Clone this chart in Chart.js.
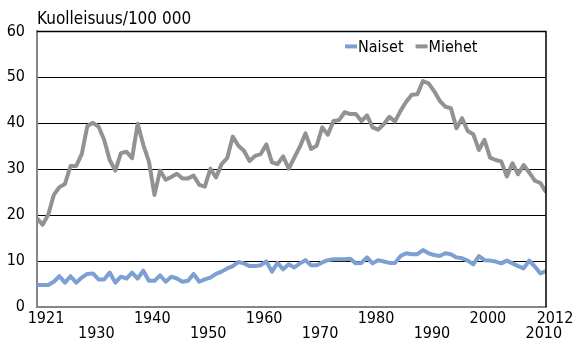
<!DOCTYPE html>
<html>
<head>
<meta charset="utf-8">
<script src="https://cdn.jsdelivr.net/npm/chart.js@4/dist/chart.umd.min.js"></script>
<style>
    html, body { margin: 0; padding: 0; background: #fff; }
    #wrap { width: 573px; height: 340px; }
</style>
</head>
<body>
<div id="wrap"><canvas id="kuolleisuusChart" width="573" height="340"></canvas></div>
<script>
// Vuodet 1921-2012
const ensimmainenVuosi = 1921;
const viimeinenVuosi = 2012;

const naiset = [
    4.8, 4.8, 4.8, 5.5, 6.7, 5.3, 6.7, 5.3, 6.4, 7.2,
    7.3, 6.0, 6.0, 7.5, 5.3, 6.6, 6.2, 7.5, 6.2, 7.9,
    5.7, 5.7, 6.9, 5.5, 6.6, 6.2, 5.5, 5.7, 7.2, 5.5,
    6.0, 6.4, 7.2, 7.7, 8.4, 8.9, 9.8, 9.5, 8.9, 8.9,
    9.1, 9.9, 7.7, 9.6, 8.2, 9.3, 8.6, 9.5, 10.2, 9.1,
    9.1, 9.7, 10.2, 10.4, 10.4, 10.4, 10.5, 9.5, 9.6, 10.8,
    9.5, 10.2, 9.9, 9.6, 9.6, 11.1, 11.7, 11.5, 11.5, 12.4,
    11.7, 11.3, 11.1, 11.7, 11.5, 10.8, 10.6, 10.1, 9.3, 11.1,
    10.2, 10.1, 9.9, 9.5, 10.1, 9.5, 8.9, 8.4, 10.1, 8.8,
    7.3, 7.8
];

const miehet = [
    19.3, 17.9, 20.1, 24.4, 26.1, 26.8, 30.7, 30.7, 33.3, 39.4,
    40.1, 39.3, 36.4, 32.0, 29.7, 33.5, 33.8, 32.4, 39.9, 35.3,
    31.7, 24.4, 29.7, 27.7, 28.3, 29.0, 28.0, 28.0, 28.6, 26.6,
    26.2, 30.1, 28.2, 31.1, 32.4, 37.1, 35.1, 34.0, 31.8, 32.9,
    33.3, 35.4, 31.5, 31.1, 32.8, 30.1, 32.5, 34.9, 37.8, 34.4,
    35.1, 39.1, 37.5, 40.5, 40.7, 42.4, 42.0, 42.0, 40.5, 41.7,
    39.1, 38.6, 39.8, 41.4, 40.4, 42.7, 44.7, 46.2, 46.3, 49.2,
    48.7, 47.0, 44.9, 43.6, 43.3, 38.9, 41.1, 38.3, 37.6, 34.2,
    36.4, 32.5, 32.0, 31.7, 28.4, 31.3, 28.9, 30.9, 29.3, 27.5,
    27.0, 25.0
];

const xTikit = [1921, 1930, 1940, 1950, 1960, 1970, 1980, 1990, 2000, 2010, 2012];
const alarivi = [1930, 1950, 1970, 1990, 2010];
const yTikit = [0, 10, 20, 30, 40, 50, 60];

const fontti = "'Liberation Sans Narrow', 'Arial Narrow', 'DejaVu Sans Condensed', sans-serif";

function pisteet(arvot) {
    return arvot.map((v, i) => ({ x: ensimmainenVuosi + i, y: v }));
}

// Selite piirtoalueen sisälle oikeaan yläkulmaan
const seliteJaKehys = {
    id: 'seliteJaKehys',
    afterDraw(chart) {
        const ctx = chart.ctx;
        const area = chart.chartArea;
        ctx.save();
        // ylä- ja oikea reuna
        ctx.strokeStyle = '#000';
        ctx.lineWidth = 1.5;
        ctx.beginPath();
        ctx.moveTo(area.left, area.top);
        ctx.lineTo(area.right, area.top);
        ctx.lineTo(area.right, area.bottom);
        ctx.stroke();

        ctx.font = '16px ' + fontti;
        ctx.textBaseline = 'middle';
        ctx.fillStyle = '#000';
        let x = area.right - 201;
        const y = area.top + 15;
        chart.data.datasets.forEach(ds => {
            ctx.strokeStyle = ds.borderColor;
            ctx.lineWidth = 4;
            ctx.beginPath();
            ctx.moveTo(x, y);
            ctx.lineTo(x + 12, y);
            ctx.stroke();
            ctx.fillText(ds.label, x + 13, y + 1);
            x += 13 + ctx.measureText(ds.label).width + 12;
        });
        ctx.restore();
    }
};

new Chart(document.getElementById('kuolleisuusChart'), {
    type: 'line',
    data: {
        datasets: [
            { label: 'Naiset', data: pisteet(naiset), borderColor: '#7da0d2', borderWidth: 4 },
            { label: 'Miehet', data: pisteet(miehet), borderColor: '#929292', borderWidth: 4 }
        ]
    },
    options: {
        responsive: false,
        animation: false,
        layout: { padding: { left: 0, right: 27, top: 0, bottom: 0 } },
        elements: {
            point: { radius: 0 },
            line: { tension: 0, borderJoinStyle: 'round', borderCapStyle: 'butt' }
        },
        plugins: {
            legend: { display: false },
            tooltip: { enabled: false },
            title: {
                display: true,
                text: 'Kuolleisuus/100 000',
                align: 'start',
                fullSize: false,
                color: '#000',
                font: { family: fontti, size: 17, weight: 'normal', lineHeight: 1.2 },
                padding: { top: 9, bottom: 2 }
            }
        },
        scales: {
            x: {
                type: 'linear',
                min: ensimmainenVuosi,
                max: viimeinenVuosi,
                afterBuildTicks: scale => { scale.ticks = xTikit.map(v => ({ value: v })); },
                afterFit: scale => { scale.height = 33; },
                grid: { display: false, drawTicks: false },
                border: { display: true, color: '#868686', width: 2 },
                ticks: {
                    color: '#000',
                    font: { family: fontti, size: 16, lineHeight: 0.9 },
                    padding: 5,
                    labelOffset: 9,
                    maxRotation: 0,
                    autoSkip: false,
                    callback: v => alarivi.includes(v) ? ['', String(v)] : [String(v), '']
                }
            },
            y: {
                min: 0,
                max: 60,
                afterBuildTicks: scale => { scale.ticks = yTikit.map(v => ({ value: v })); },
                afterFit: scale => { scale.width = 37; },
                grid: {
                    drawTicks: false,
                    color: ctx => ctx.tick && ctx.tick.value === 0 ? 'rgba(0,0,0,0)' : '#000',
                    lineWidth: 1
                },
                border: { display: true, color: '#868686', width: 2 },
                ticks: {
                    color: '#000',
                    font: { family: fontti, size: 16 },
                    padding: 12
                }
            }
        }
    },
    plugins: [seliteJaKehys]
});
</script>
</body>
</html>
